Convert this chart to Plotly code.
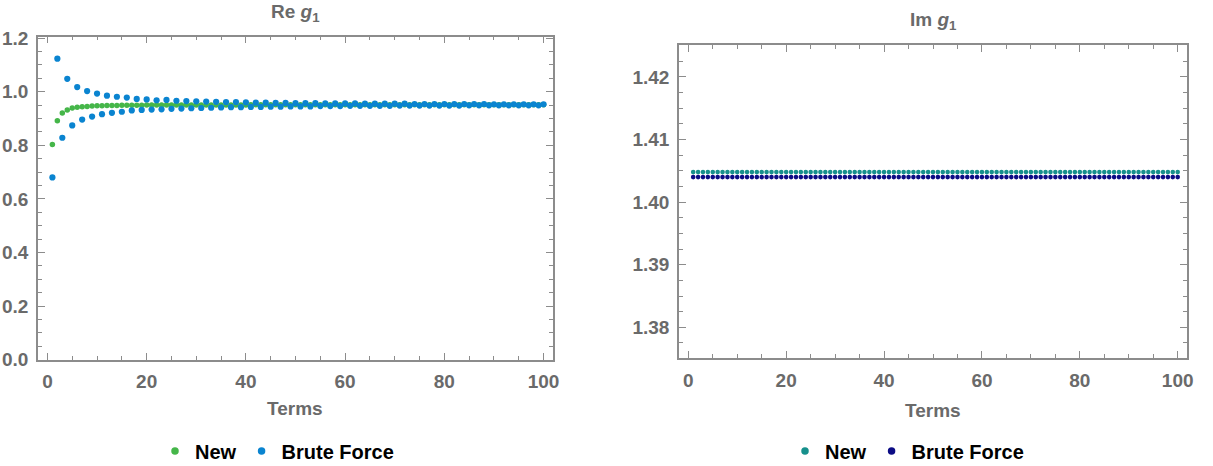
import plotly.graph_objects as go

terms = list(range(1, 101))

re_new = [
    0.803, 0.891, 0.920, 0.932, 0.939, 0.942, 0.944, 0.945, 0.946, 0.947,
    0.947, 0.948, 0.948, 0.948, 0.949, 0.949, 0.949, 0.949, 0.949, 0.950,
    0.950, 0.950, 0.950, 0.950, 0.950, 0.950, 0.950, 0.950, 0.950, 0.950,
    0.950, 0.950, 0.950, 0.950, 0.950, 0.950, 0.950, 0.950, 0.950, 0.950,
    0.951, 0.951, 0.951, 0.951, 0.951, 0.951, 0.951, 0.951, 0.951, 0.951,
    0.951, 0.951, 0.951, 0.951, 0.951, 0.951, 0.951, 0.951, 0.951, 0.951,
    0.951, 0.951, 0.951, 0.951, 0.951, 0.951, 0.951, 0.951, 0.951, 0.951,
    0.951, 0.951, 0.951, 0.951, 0.951, 0.951, 0.951, 0.951, 0.951, 0.951,
    0.951, 0.951, 0.951, 0.951, 0.951, 0.951, 0.951, 0.951, 0.951, 0.951,
    0.951, 0.951, 0.951, 0.951, 0.951, 0.951, 0.951, 0.951, 0.951, 0.951,
]

re_brute = [
    0.680, 1.123, 0.828, 1.048, 0.874, 1.017, 0.896, 1.002, 0.907, 0.993,
    0.916, 0.985, 0.921, 0.981, 0.925, 0.978, 0.930, 0.973, 0.932, 0.971,
    0.933, 0.968, 0.934, 0.969, 0.936, 0.966, 0.937, 0.965, 0.938, 0.964,
    0.939, 0.963, 0.940, 0.962, 0.941, 0.961, 0.942, 0.961, 0.942, 0.960,
    0.943, 0.959, 0.943, 0.959, 0.944, 0.958, 0.944, 0.958, 0.945, 0.957,
    0.945, 0.957, 0.945, 0.957, 0.946, 0.956, 0.946, 0.956, 0.946, 0.956,
    0.947, 0.956, 0.947, 0.955, 0.947, 0.955, 0.947, 0.955, 0.947, 0.955,
    0.948, 0.955, 0.948, 0.954, 0.948, 0.954, 0.948, 0.954, 0.948, 0.954,
    0.948, 0.954, 0.948, 0.954, 0.949, 0.954, 0.949, 0.954, 0.949, 0.953,
    0.949, 0.953, 0.949, 0.953, 0.949, 0.953, 0.949, 0.953, 0.949, 0.953,
]

im_new = [
    1.4048, 1.4048, 1.4048, 1.4048, 1.4048, 1.4048, 1.4048, 1.4048, 1.4048, 1.4048,
    1.4048, 1.4048, 1.4048, 1.4048, 1.4048, 1.4048, 1.4048, 1.4048, 1.4048, 1.4048,
    1.4048, 1.4048, 1.4048, 1.4048, 1.4048, 1.4048, 1.4048, 1.4048, 1.4048, 1.4048,
    1.4048, 1.4048, 1.4048, 1.4048, 1.4048, 1.4048, 1.4048, 1.4048, 1.4048, 1.4048,
    1.4048, 1.4048, 1.4048, 1.4048, 1.4048, 1.4048, 1.4048, 1.4048, 1.4048, 1.4048,
    1.4048, 1.4048, 1.4048, 1.4048, 1.4048, 1.4048, 1.4048, 1.4048, 1.4048, 1.4048,
    1.4048, 1.4048, 1.4048, 1.4048, 1.4048, 1.4048, 1.4048, 1.4048, 1.4048, 1.4048,
    1.4048, 1.4048, 1.4048, 1.4048, 1.4048, 1.4048, 1.4048, 1.4048, 1.4048, 1.4048,
    1.4048, 1.4048, 1.4048, 1.4048, 1.4048, 1.4048, 1.4048, 1.4048, 1.4048, 1.4048,
    1.4048, 1.4048, 1.4048, 1.4048, 1.4048, 1.4048, 1.4048, 1.4048, 1.4048, 1.4048,
]

im_brute = [
    1.4040, 1.4040, 1.4040, 1.4040, 1.4040, 1.4040, 1.4040, 1.4040, 1.4040, 1.4040,
    1.4040, 1.4040, 1.4040, 1.4040, 1.4040, 1.4040, 1.4040, 1.4040, 1.4040, 1.4040,
    1.4040, 1.4040, 1.4040, 1.4040, 1.4040, 1.4040, 1.4040, 1.4040, 1.4040, 1.4040,
    1.4040, 1.4040, 1.4040, 1.4040, 1.4040, 1.4040, 1.4040, 1.4040, 1.4040, 1.4040,
    1.4040, 1.4040, 1.4040, 1.4040, 1.4040, 1.4040, 1.4040, 1.4040, 1.4040, 1.4040,
    1.4040, 1.4040, 1.4040, 1.4040, 1.4040, 1.4040, 1.4040, 1.4040, 1.4040, 1.4040,
    1.4040, 1.4040, 1.4040, 1.4040, 1.4040, 1.4040, 1.4040, 1.4040, 1.4040, 1.4040,
    1.4040, 1.4040, 1.4040, 1.4040, 1.4040, 1.4040, 1.4040, 1.4040, 1.4040, 1.4040,
    1.4040, 1.4040, 1.4040, 1.4040, 1.4040, 1.4040, 1.4040, 1.4040, 1.4040, 1.4040,
    1.4040, 1.4040, 1.4040, 1.4040, 1.4040, 1.4040, 1.4040, 1.4040, 1.4040, 1.4040,
]

x_ticks = [0, 20, 40, 60, 80, 100]
re_ticks = [0.0, 0.2, 0.4, 0.6, 0.8, 1.0, 1.2]
im_ticks = [1.38, 1.39, 1.40, 1.41, 1.42]

W, H = 1213, 466
FONT = "Liberation Sans"
GRAY = "#6a6a6a"
FRAME = "#8c8c8c"
C_NEW_RE, C_BF_RE = "#45b649", "#0a84d0"
C_NEW_IM, C_BF_IM = "#16908c", "#0c0c85"

fig = go.Figure()
# data traces
fig.add_trace(go.Scatter(x=terms, y=re_new, mode="markers", name="New", showlegend=False,
                         marker=dict(color=C_NEW_RE, size=5.5), xaxis="x", yaxis="y"))
fig.add_trace(go.Scatter(x=terms, y=re_brute, mode="markers", name="Brute Force", showlegend=False,
                         marker=dict(color=C_BF_RE, size=6.2), xaxis="x", yaxis="y"))
fig.add_trace(go.Scatter(x=terms, y=im_new, mode="markers", name="New", showlegend=False,
                         marker=dict(color=C_NEW_IM, size=4.6), xaxis="x2", yaxis="y2"))
fig.add_trace(go.Scatter(x=terms, y=im_brute, mode="markers", name="Brute Force", showlegend=False,
                         marker=dict(color=C_BF_IM, size=4.6), xaxis="x2", yaxis="y2"))
# legend entries
for name, col, ax, ay, lg in [("New", C_NEW_RE, "x", "y", "legend"),
                              ("Brute Force", C_BF_RE, "x", "y", "legend"),
                              ("New", C_NEW_IM, "x2", "y2", "legend2"),
                              ("Brute Force", C_BF_IM, "x2", "y2", "legend2")]:
    fig.add_trace(go.Scatter(x=[None], y=[None], mode="markers", name=name,
                             marker=dict(color=col, size=7.5), xaxis=ax, yaxis=ay, legend=lg))

tickfont = dict(family=FONT, size=19, color=GRAY, weight="bold")

def xax(domain, anchor):
    return dict(domain=domain, anchor=anchor, range=[-1.9, 101.9],
                tickvals=x_ticks, ticktext=[str(v) for v in x_ticks],
                ticks="inside", ticklen=7, tickwidth=1.2, tickcolor=FRAME,
                minor=dict(dtick=5, tick0=0, ticks="inside", ticklen=4, tickcolor=FRAME, tickwidth=1.2),
                showline=True, linecolor=FRAME, linewidth=1.5, mirror="ticks",
                showgrid=False, zeroline=False, tickfont=tickfont, ticklabelstandoff=4)

def yax(domain, anchor, rng, vals, fmt, minor_dtick):
    return dict(domain=domain, anchor=anchor, range=rng,
                tickvals=vals, ticktext=[fmt.format(v) for v in vals],
                ticks="inside", ticklen=7, tickwidth=1.2, tickcolor=FRAME,
                minor=dict(dtick=minor_dtick, tick0=0, ticks="inside", ticklen=4, tickcolor=FRAME, tickwidth=1.2),
                showline=True, linecolor=FRAME, linewidth=1.5, mirror="ticks",
                showgrid=False, zeroline=False, tickfont=tickfont, ticklabelstandoff=4)

L = (38 / W, 553 / W)
R = (679 / W, 1187 / W)
YL = (1 - 359.7 / H, 1 - 36.7 / H)
YR = (1 - 358 / H, 1 - 45 / H)

legfont = dict(family=FONT, size=20, color="black", weight="bold")
fig.update_layout(
    width=W, height=H,
    margin=dict(l=0, r=0, t=0, b=0, autoexpand=False),
    paper_bgcolor="white", plot_bgcolor="white",
    xaxis=xax(L, "y"),
    yaxis=yax(YL, "x", [0, 1.205], re_ticks, "{:.1f}", 0.05),
    xaxis2=xax(R, "y2"),
    yaxis2=yax(YR, "x2", [1.3751, 1.4251], im_ticks, "{:.2f}", 0.0025),
    legend=dict(orientation="h", x=277 / W, y=1 - 451 / H, xanchor="center", yanchor="middle",
                font=legfont, itemwidth=30, bgcolor="rgba(0,0,0,0)"),
    legend2=dict(orientation="h", x=907 / W, y=1 - 451 / H, xanchor="center", yanchor="middle",
                 font=legfont, itemwidth=30, bgcolor="rgba(0,0,0,0)"),
    showlegend=True,
)

ann_font = dict(family=FONT, size=19, color=GRAY, weight="bold")
fig.add_annotation(text="Re <i>g</i><sub>1</sub>", x=(L[0] + L[1]) / 2, y=1 - 13 / H,
                   xref="paper", yref="paper", showarrow=False, font=ann_font,
                   xanchor="center", yanchor="middle")
fig.add_annotation(text="Im <i>g</i><sub>1</sub>", x=(R[0] + R[1]) / 2, y=1 - 21.5 / H,
                   xref="paper", yref="paper", showarrow=False, font=ann_font,
                   xanchor="center", yanchor="middle")
fig.add_annotation(text="Terms", x=(L[0] + L[1]) / 2, y=1 - 408 / H,
                   xref="paper", yref="paper", showarrow=False, font=ann_font,
                   xanchor="center", yanchor="middle")
fig.add_annotation(text="Terms", x=(R[0] + R[1]) / 2, y=1 - 410 / H,
                   xref="paper", yref="paper", showarrow=False, font=ann_font,
                   xanchor="center", yanchor="middle")

fig.write_html("out.html")
